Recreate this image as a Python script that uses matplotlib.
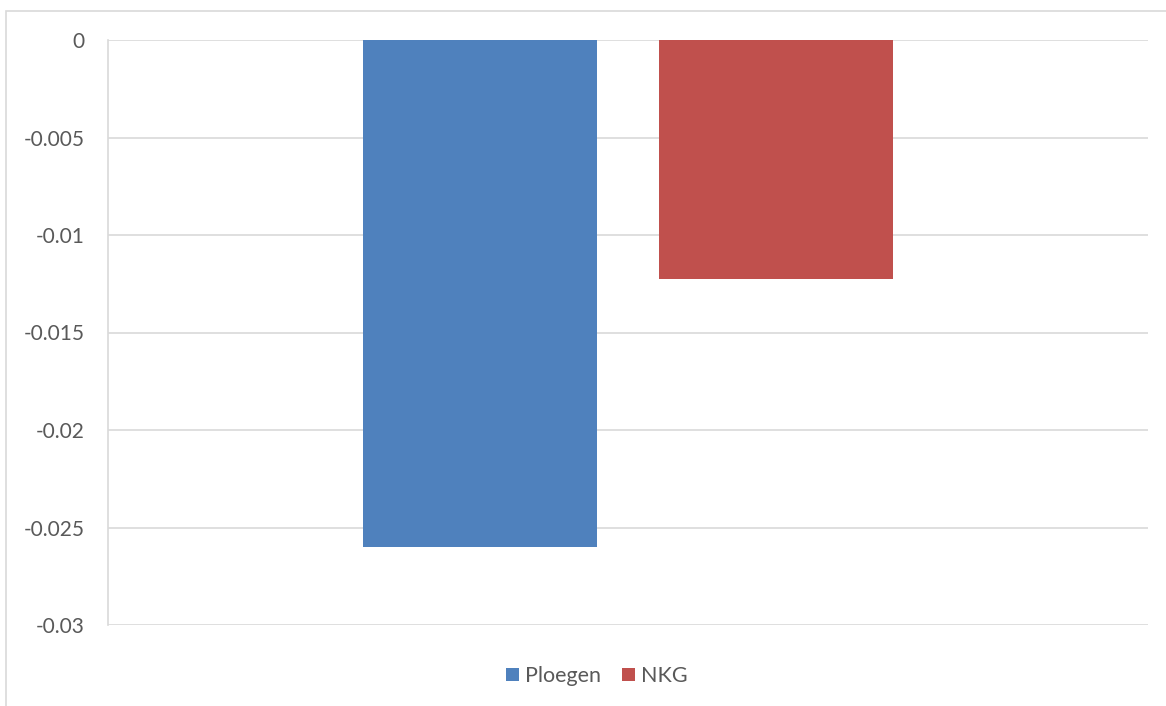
import matplotlib
matplotlib.use("Agg")
import matplotlib.pyplot as plt
from matplotlib.patches import Rectangle
import numpy as np

series = ["Ploegen", "NKG"]
values = [-0.0260, -0.01225]
colors = ["#4F81BD", "#C0504D"]
yticks = [0, -0.005, -0.01, -0.015, -0.02, -0.025, -0.03]
ytick_labels = ["0", "-0.005", "-0.01", "-0.015", "-0.02", "-0.025", "-0.03"]

plt.rcParams['font.family'] = ['Lato', 'DejaVu Sans']

W, H = 1166, 706
fig = plt.figure(figsize=(W/100, H/100), dpi=100)

# outer chart border
fig.patches.append(Rectangle((6/W, -0.1), 1.2, (H-11)/H + 0.1, transform=fig.transFigure,
                             fill=False, edgecolor="#D9D9D9", linewidth=1.2))

left, right, top, bottom = 108, 1148, 40, 625
ax = fig.add_axes([left/W, 1-bottom/H, (right-left)/W, (bottom-top)/H])

bar_w = 234/1040
centers = [(480-108)/1040, (776-108)/1040]
for c, v, col, name in zip(centers, values, colors, series):
    ax.bar(c, v, width=bar_w, color=col, label=name, zorder=3)

ax.set_xlim(0, 1)
ax.set_ylim(-0.03, 0)
ax.set_yticks(yticks)
ax.set_yticklabels(ytick_labels)
ax.set_xticks([])
ax.yaxis.grid(True, color="#D9D9D9", linewidth=1.2, zorder=0)
for s in ["top", "right", "bottom"]:
    ax.spines[s].set_visible(False)
ax.spines["left"].set_color("#D9D9D9")
ax.spines["left"].set_linewidth(1.2)
ax.tick_params(axis="y", length=0, pad=17, labelsize=15, labelcolor="#595959")
ax.set_axisbelow(True)

leg = fig.legend(loc="center", bbox_to_anchor=(597/W, 1-676/H), ncol=2, frameon=False,
                 fontsize=15.5, handlelength=0.6, handleheight=0.6, handletextpad=0.3,
                 columnspacing=0.95, labelcolor="#595959")

fig.savefig("out.png", dpi=100)
